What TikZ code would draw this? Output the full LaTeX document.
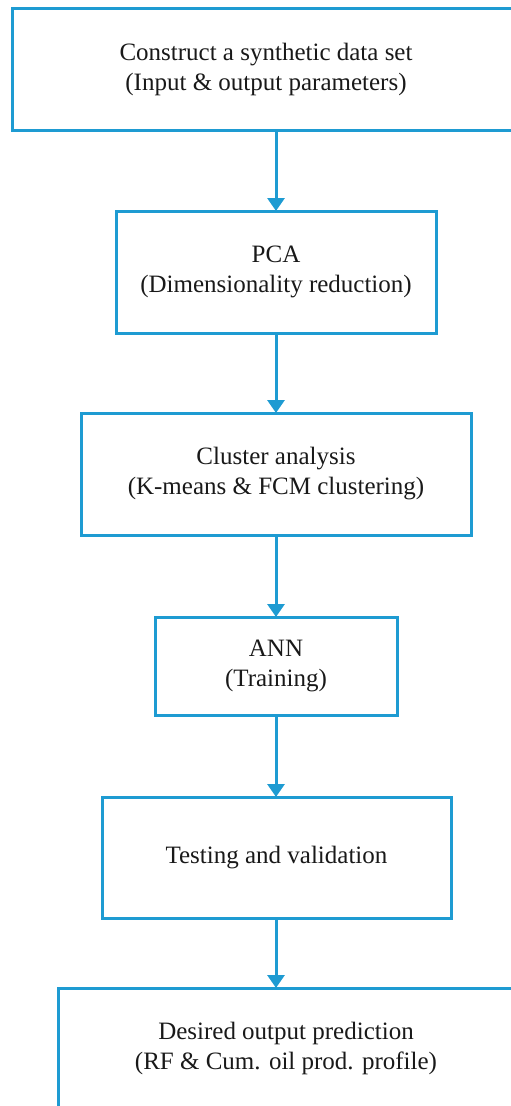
\documentclass[tikz,border=0pt]{standalone}
\usepackage{fontspec}
\setmainfont{Liberation Serif}
\usetikzlibrary{arrows.meta, positioning}
\definecolor{azul}{RGB}{30,155,210}

\begin{document}
\begin{tikzpicture}[x=1pt, y=1pt,
    caja/.style={draw=azul, line width=3pt, rectangle, align=center,
        inner sep=0pt, outer sep=0pt, text=black!90,
        font=\fontsize{25}{30}\selectfont},
    flecha/.style={-{Triangle[length=13pt, width=17pt]}, draw=azul, line width=3pt}]
    % Marco
    \useasboundingbox (0,0) rectangle (511,-1106);
    \clip (0,0) rectangle (511,-1106);

    % Cajas
    \node[caja, minimum width=508pt, minimum height=122pt] (datos) at (266,-69.5)
        {Construct a synthetic data set\\(Input \& output parameters)};
    \node[caja, minimum width=320pt, minimum height=122pt] (pca) at (276,-272)
        {PCA\\(Dimensionality reduction)};
    \node[caja, minimum width=390pt, minimum height=122pt] (cluster) at (276,-474)
        {Cluster analysis\\(K-means \& FCM clustering)};
    \node[caja, minimum width=242pt, minimum height=98pt] (ann) at (276,-666)
        {ANN\\(Training)};
    \node[caja, minimum width=349pt, minimum height=121pt] (prueba) at (276.5,-857.5)
        {Testing and validation};
    \node[caja, minimum width=456pt, minimum height=120pt] (salida) at (286,-1048)
        {Desired output prediction\\(RF \& Cum. oil prod. profile)};

    % Flechas
    \draw[flecha] (datos.south -| pca.north) -- (pca.north);
    \draw[flecha] (pca.south) -- (cluster.north);
    \draw[flecha] (cluster.south) -- (ann.north);
    \draw[flecha] (ann.south) -- (ann.south |- prueba.north);
    \draw[flecha] (ann.south |- prueba.south) -- (ann.south |- salida.north);
\end{tikzpicture}
\end{document}
